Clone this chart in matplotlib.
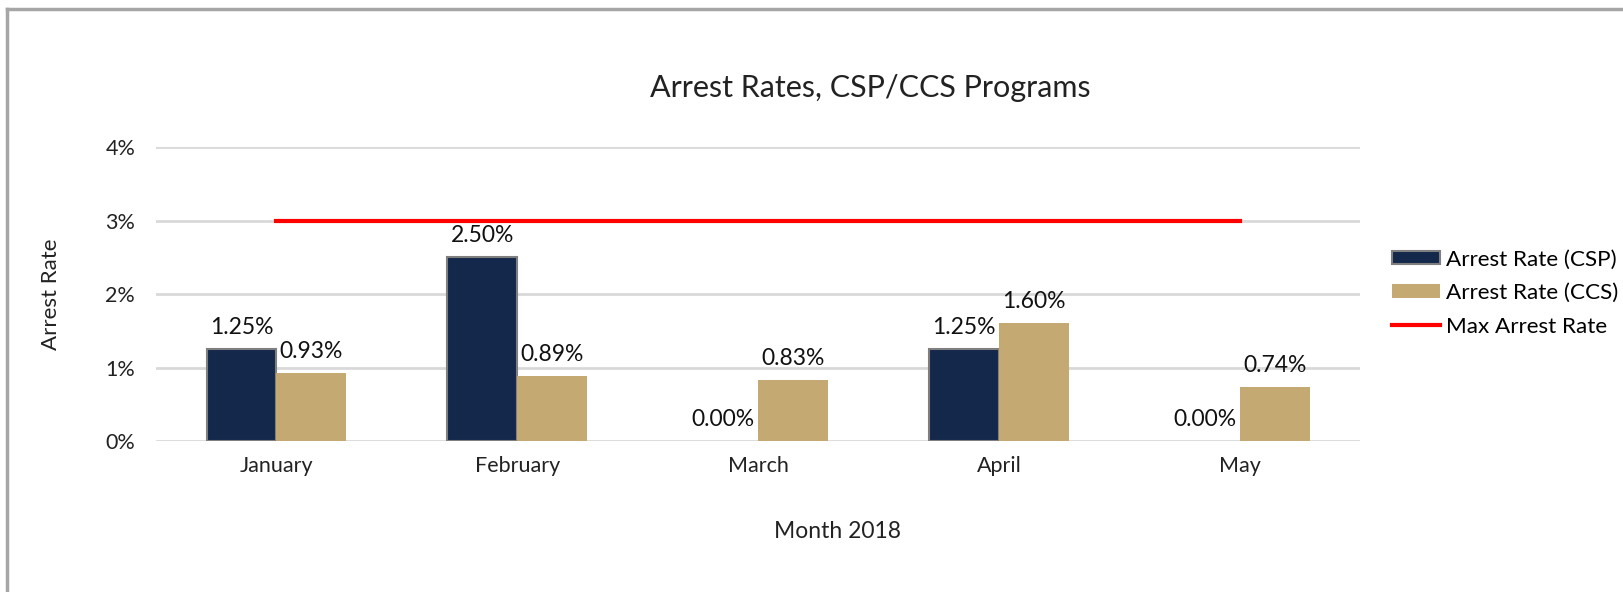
import matplotlib.pyplot as plt
from matplotlib.patches import Patch
from matplotlib.lines import Line2D
from matplotlib.ticker import FuncFormatter
import numpy as np

months = ['January', 'February', 'March', 'April', 'May']
rate_csp = [1.25, 2.50, 0.00, 1.25, 0.00]
rate_ccs = [0.93, 0.89, 0.83, 1.60, 0.74]
max_rate = [3, 3, 3, 3, 3]

navy = '#14284b'
tan = '#c5a973'

plt.rcParams['font.family'] = ['Lato', 'DejaVu Sans']

fig = plt.figure(figsize=(16.23, 5.92), dpi=100)
ax = fig.add_axes([0.0961, 0.255, 0.742, 0.4966])

x = np.arange(len(months))
w = 0.29
# zero bars get no outline, as in the original
edge_w = [1.5 if v > 0 else 0 for v in rate_csp]
ax.bar(x - w / 2, rate_csp, w, color=navy, edgecolor='#7f7f7f', linewidth=edge_w, zorder=3)
ax.bar(x + w / 2, rate_ccs, w, color=tan, zorder=3)
ax.plot(x, max_rate, color='red', linewidth=3, zorder=4)

for xi, v in zip(x - w / 2, rate_csp):
    ax.annotate('%.2f%%' % v, (xi, v), xytext=(0, 8), textcoords='offset points',
                ha='center', va='bottom', fontsize=16.5, color='#111111')
for xi, v in zip(x + w / 2, rate_ccs):
    ax.annotate('%.2f%%' % v, (xi, v), xytext=(0, 8), textcoords='offset points',
                ha='center', va='bottom', fontsize=16.5, color='#111111')

ax.set_xlim(-0.5, 4.5)
ax.set_ylim(0, 4)
ax.set_yticks([0, 1, 2, 3, 4])
ax.yaxis.set_major_formatter(FuncFormatter(lambda v, p: '%d%%' % v))
ax.set_xticks(x)
ax.set_xticklabels(months)
ax.tick_params(axis='both', length=0, labelsize=15.5, colors='#222222')
ax.tick_params(axis='x', pad=11)
ax.tick_params(axis='y', pad=15)
ax.grid(axis='y', color='#d9d9d9', linewidth=2, zorder=0)
for s in ax.spines.values():
    s.set_visible(False)

ax.set_xlabel('Month 2018', fontsize=16.5, color='#222222')
ax.xaxis.set_label_coords(0.566, -0.272)
ax.set_ylabel('Arrest Rate', fontsize=16, color='#222222')
ax.yaxis.set_label_coords(-0.079, 0.5)
fig.text(0.536, 0.851, 'Arrest Rates, CSP/CCS Programs', ha='center', va='center',
         fontsize=22, color='#222222')

handles = [Patch(facecolor=navy, edgecolor='#7f7f7f', linewidth=1.5),
           Patch(facecolor=tan),
           Line2D([0], [0], color='red', linewidth=3)]
labels = ['Arrest Rate (CSP)', 'Arrest Rate (CCS)', 'Max Arrest Rate']
fig.legend(handles, labels, loc='center left', bbox_to_anchor=(0.851, 0.505), frameon=False,
           fontsize=16.2, handlelength=2.1, handleheight=0.55, handletextpad=0.28,
           labelspacing=0.6, borderpad=0)

# outer frame (top and left only are visible)
fig.add_artist(Line2D([0.0043, 0.0043], [0, 0.985], transform=fig.transFigure, color='#a6a6a6', linewidth=2.5))
fig.add_artist(Line2D([0.0043, 1], [0.985, 0.985], transform=fig.transFigure, color='#a6a6a6', linewidth=2.5))

plt.savefig('out.png', dpi=100)
plt.close()
